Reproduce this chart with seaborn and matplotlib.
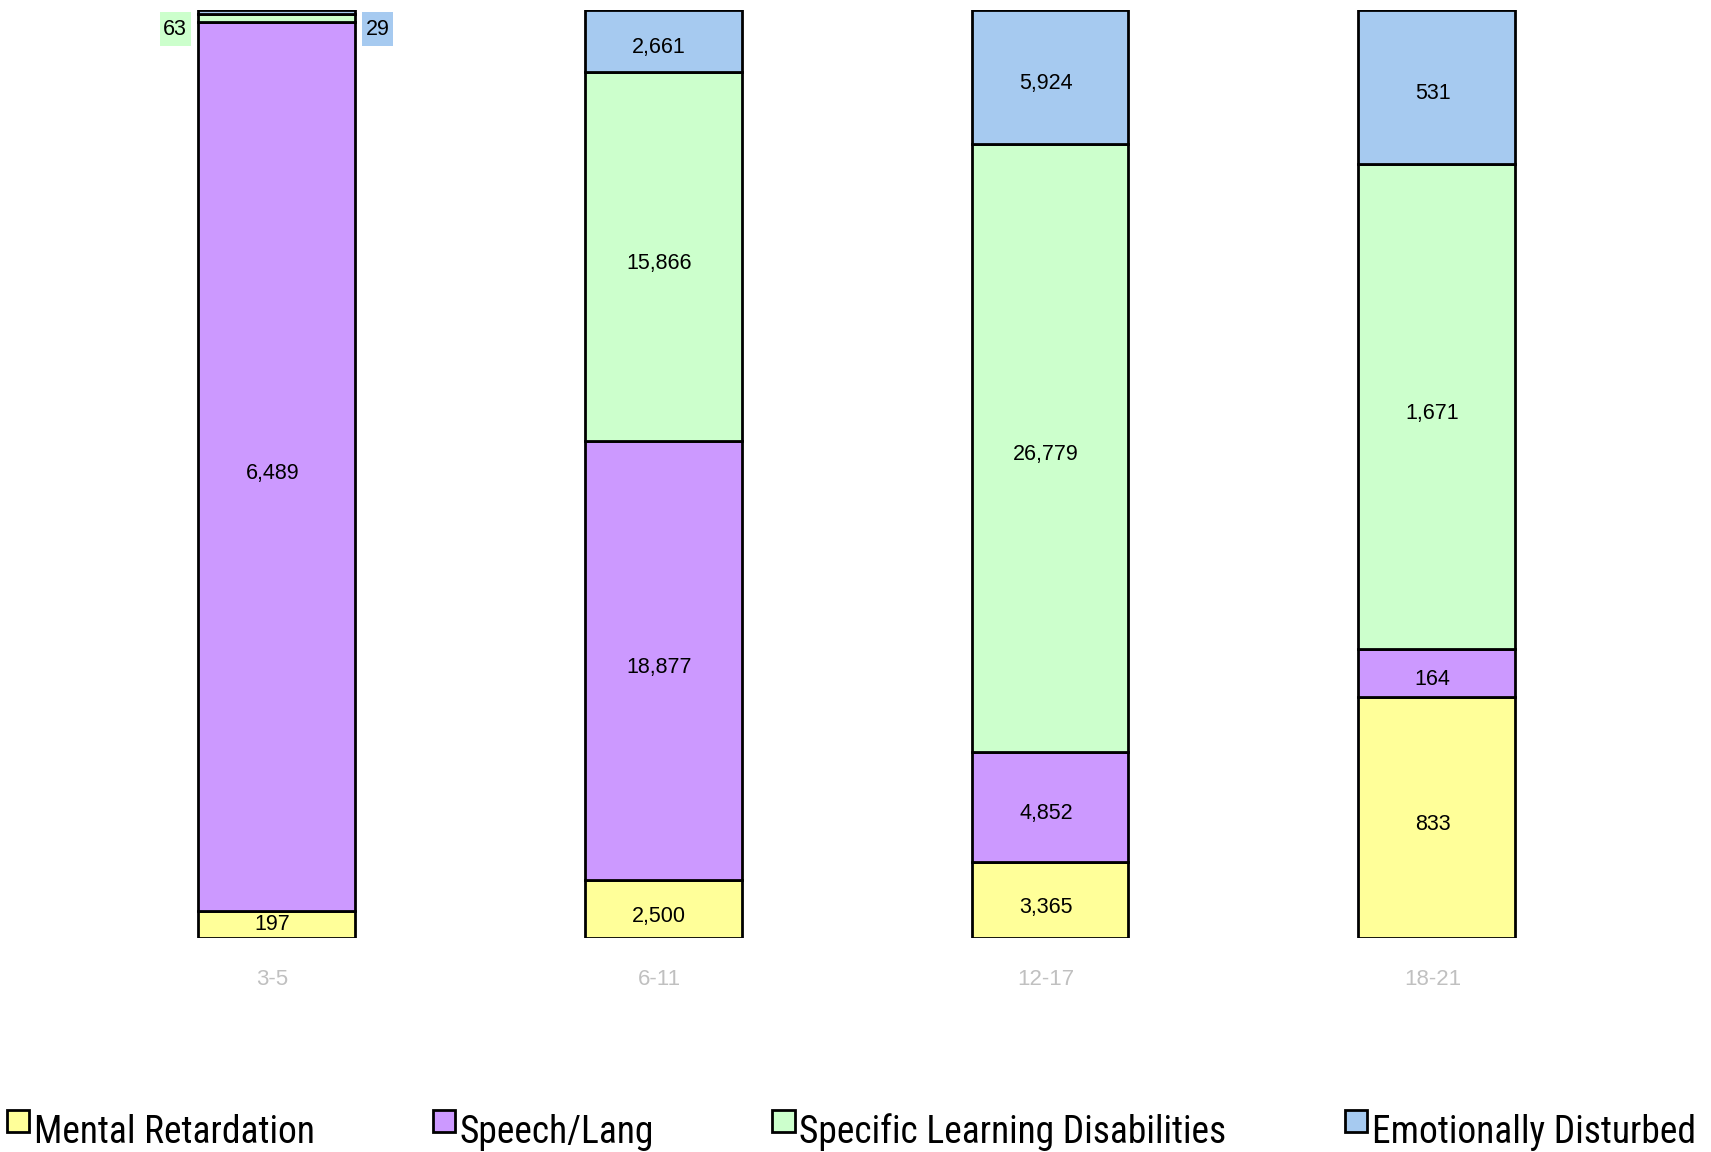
import matplotlib
matplotlib.use("Agg")
import matplotlib.pyplot as plt
import matplotlib.patches as mpatches
from matplotlib.container import BarContainer
from matplotlib.legend_handler import HandlerPatch, update_from_first_child
from matplotlib.path import Path
from matplotlib.transforms import ScaledTranslation
from matplotlib import font_manager
import seaborn as sns
import pandas as pd
import numpy as np

# Datos del gráfico
age_groups = ["3-5", "6-11", "12-17", "18-21"]
categories = ["Mental Retardation", "Speech/Lang",
              "Specific Learning Disabilities", "Emotionally Disturbed"]
mental_retardation = [197, 2500, 3365, 833]
speech_lang = [6489, 18877, 4852, 164]
learning_disabilities = [63, 15866, 26779, 1671]
emotionally_disturbed = [29, 2661, 5924, 531]
colors = ["#FFFF99", "#CC99FF", "#CCFFCC", "#A6CAF0"]

sns.set_style("white")
plt.rcParams["font.family"] = ["Liberation Sans", "DejaVu Sans"]
plt.rcParams["text.color"] = "black"

counts = pd.DataFrame({
    categories[0]: mental_retardation,
    categories[1]: speech_lang,
    categories[2]: learning_disabilities,
    categories[3]: emotionally_disturbed,
}, index=age_groups)
shares = counts.div(counts.sum(axis=1), axis=0)

fig = plt.figure(figsize=(17.11, 11.52), dpi=100)
ax = fig.add_axes([0.0487, 0.1855, 0.904, 0.806])

bar_w = 0.405
lbl_dx = -3  # las etiquetas van un poco a la izquierda del centro

bottom = np.zeros(len(age_groups))
for cat, color in zip(categories, colors):
    vals = shares[cat].values
    sns.barplot(x=age_groups, y=vals, bottom=bottom.copy(), order=age_groups,
                color=color, saturation=1, edgecolor="black", linewidth=2,
                width=bar_w, label=cat, ax=ax)
    for i, (v, s, b) in enumerate(zip(counts[cat].values, vals, bottom)):
        if s < 0.02:
            continue
        dy = -5 if s > 0.04 else 0
        ax.annotate(f"{v:,}", (i, b + s / 2), xytext=(lbl_dx, dy), textcoords="offset points",
                    ha="center", va="center", fontsize=15.5)
    bottom += vals


def tall_box(x0, y0, width, height, mutation_size):
    # caja con más relleno vertical que horizontal
    px, py = 0.16 * mutation_size, 0.3 * mutation_size
    return Path([(x0 - px, y0 - py), (x0 + width + px, y0 - py),
                 (x0 + width + px, y0 + height + py), (x0 - px, y0 + height + py),
                 (x0 - px, y0 - py)], closed=True)


# Etiquetas de segmentos pequeños (grupo 3-5)
ax.text(-bar_w / 2 - 0.029, 0.979, f"{learning_disabilities[0]:,}", ha="right", va="center",
        fontsize=15.5, bbox=dict(boxstyle=tall_box, facecolor=colors[2], edgecolor="none"))
ax.text(bar_w / 2 + 0.027, 0.979, f"{emotionally_disturbed[0]:,}", ha="left", va="center",
        fontsize=15.5, bbox=dict(boxstyle=tall_box, facecolor=colors[3], edgecolor="none"))

ax.set_xlim(-0.5, 3.5)
ax.set_ylim(0, 1)
ax.set_yticks([])
ax.set_xlabel("")
ax.set_ylabel("")
ax.tick_params(axis="x", length=0, pad=22, labelsize=16, labelcolor="#c0c0c0")
for t in ax.get_xticklabels():
    t.set_transform(t.get_transform() + ScaledTranslation(-4 / 100, 0, fig.dpi_scale_trans))
sns.despine(ax=ax, left=True, bottom=True)
if ax.get_legend() is not None:
    ax.get_legend().remove()

# Fuente estrecha si existe
names = {f.name for f in font_manager.fontManager.ttflist}
narrow = [n for n in ["Liberation Sans Narrow", "Roboto Condensed", "Open Sans Condensed",
                      "DejaVu Sans Condensed"] if n in names]
if narrow:
    leg_font, leg_size = narrow[0], 27
else:
    leg_font, leg_size = "Liberation Sans", 24


def top_patch(legend, orig_handle, xdescent, ydescent, width, height, fontsize):
    # cuadrito alineado arriba del texto
    return mpatches.Rectangle((-xdescent, -ydescent + 0.42 * height), width, 0.84 * height)


handles, labels = ax.get_legend_handles_labels()
handler = HandlerPatch(patch_func=top_patch, update_func=update_from_first_child)
fig.legend(handles, labels, loc="center left", bbox_to_anchor=(0.004, 0.017),
           ncol=4, frameon=False, borderaxespad=0, borderpad=0,
           prop=dict(family=leg_font, size=leg_size),
           handlelength=0.6, handleheight=0.7, handletextpad=0.12, columnspacing=3.15,
           handler_map={BarContainer: handler, mpatches.Rectangle: handler})

fig.savefig("out.png", dpi=100)
